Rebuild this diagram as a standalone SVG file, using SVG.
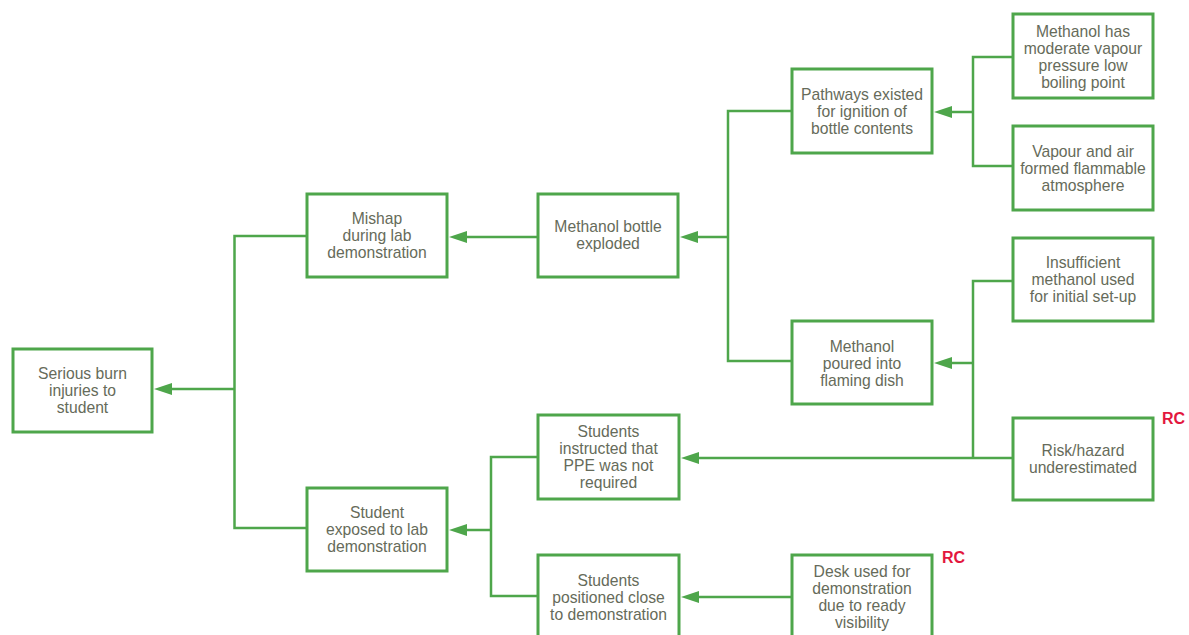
<svg xmlns="http://www.w3.org/2000/svg" width="1189" height="635" viewBox="0 0 1189 635">
  <style>
    .box { fill: #ffffff; stroke: #4ea64b; stroke-width: 3; }
    .lbl { font-family: "Liberation Sans", Arial, sans-serif; font-size: 15.7px; fill: #666b5a; text-anchor: middle; }
    .wire { fill: none; stroke: #4ea64b; stroke-width: 2.5; }
    .rc { font-family: "Liberation Sans", Arial, sans-serif; font-size: 16px; font-weight: bold; fill: #e3173e; }
  </style>
  <defs>
    <marker id="arrow" markerUnits="userSpaceOnUse" markerWidth="18" markerHeight="12" refX="2" refY="6" orient="auto">
      <path d="M0,0 L18,6 L0,12 z" fill="#4ea64b"/>
    </marker>
  </defs>
  <rect width="1189" height="635" fill="#ffffff"/>

  <!-- connectors -->
  <g id="connectors">
    <path class="wire" d="M307,236 H234.5 V528 H307"/>
    <path class="wire" d="M234.5,389 H170" marker-end="url(#arrow)"/>
    <path class="wire" d="M538,237 H465" marker-end="url(#arrow)"/>
    <path class="wire" d="M792,111 H728 V361 H792"/>
    <path class="wire" d="M728,237 H696" marker-end="url(#arrow)"/>
    <path class="wire" d="M1013,57 H973 V166 H1013"/>
    <path class="wire" d="M973,112 H950" marker-end="url(#arrow)"/>
    <path class="wire" d="M1013,281 H973 V458"/>
    <path class="wire" d="M973,363 H950" marker-end="url(#arrow)"/>
    <path class="wire" d="M1013,458 H697" marker-end="url(#arrow)"/>
    <path class="wire" d="M538,457 H491 V596 H538"/>
    <path class="wire" d="M491,530 H465" marker-end="url(#arrow)"/>
    <path class="wire" d="M792,597 H697" marker-end="url(#arrow)"/>
  </g>

  <g id="serious-burn">
    <rect class="box" x="13" y="349" width="139" height="83"/>
    <text class="lbl"><tspan x="82.5" y="378.5">Serious burn</tspan><tspan x="82.5" y="395.5">injuries to</tspan><tspan x="82.5" y="412.5">student</tspan></text>
  </g>

  <g id="mishap">
    <rect class="box" x="307" y="194" width="140" height="83"/>
    <text class="lbl"><tspan x="377" y="224">Mishap</tspan><tspan x="377" y="241">during lab</tspan><tspan x="377" y="258">demonstration</tspan></text>
  </g>

  <g id="student-exposed">
    <rect class="box" x="307" y="488" width="140" height="83"/>
    <text class="lbl"><tspan x="377" y="518">Student</tspan><tspan x="377" y="535">exposed to lab</tspan><tspan x="377" y="552">demonstration</tspan></text>
  </g>

  <g id="bottle-exploded">
    <rect class="box" x="538" y="194" width="140" height="83"/>
    <text class="lbl"><tspan x="608" y="232">Methanol bottle</tspan><tspan x="608" y="249">exploded</tspan></text>
  </g>

  <g id="ignition-pathways">
    <rect class="box" x="792" y="69" width="140" height="84"/>
    <text class="lbl"><tspan x="862" y="100">Pathways existed</tspan><tspan x="862" y="117">for ignition of</tspan><tspan x="862" y="134">bottle contents</tspan></text>
  </g>

  <g id="vapour-pressure">
    <rect class="box" x="1013" y="14" width="140" height="84"/>
    <text class="lbl"><tspan x="1083" y="36.5">Methanol has</tspan><tspan x="1083" y="53.5">moderate vapour</tspan><tspan x="1083" y="70.5">pressure low</tspan><tspan x="1083" y="87.5">boiling point</tspan></text>
  </g>

  <g id="flammable-atmosphere">
    <rect class="box" x="1013" y="126" width="140" height="84"/>
    <text class="lbl"><tspan x="1083" y="157">Vapour and air</tspan><tspan x="1083" y="174">formed flammable</tspan><tspan x="1083" y="191">atmosphere</tspan></text>
  </g>

  <g id="insufficient-methanol">
    <rect class="box" x="1013" y="238" width="140" height="83"/>
    <text class="lbl"><tspan x="1083" y="268">Insufficient</tspan><tspan x="1083" y="285">methanol used</tspan><tspan x="1083" y="302">for initial set-up</tspan></text>
  </g>

  <g id="methanol-poured">
    <rect class="box" x="792" y="321" width="140" height="83"/>
    <text class="lbl"><tspan x="862" y="351.5">Methanol</tspan><tspan x="862" y="368.5">poured into</tspan><tspan x="862" y="385.5">flaming dish</tspan></text>
  </g>

  <g id="risk-underestimated">
    <rect class="box" x="1013" y="418" width="140" height="82"/>
    <text class="lbl"><tspan x="1083" y="456">Risk/hazard</tspan><tspan x="1083" y="473">underestimated</tspan></text>
    <text class="rc" x="1162" y="424">RC</text>
  </g>

  <g id="ppe-not-required">
    <rect class="box" x="538" y="415" width="141" height="84"/>
    <text class="lbl"><tspan x="608.5" y="437">Students</tspan><tspan x="608.5" y="454">instructed that</tspan><tspan x="608.5" y="471">PPE was not</tspan><tspan x="608.5" y="488">required</tspan></text>
  </g>

  <g id="students-close">
    <rect class="box" x="538" y="555" width="141" height="84"/>
    <text class="lbl"><tspan x="608.5" y="585.5">Students</tspan><tspan x="608.5" y="602.5">positioned close</tspan><tspan x="608.5" y="619.5">to demonstration</tspan></text>
  </g>

  <g id="desk-visibility">
    <rect class="box" x="792" y="555" width="140" height="84"/>
    <text class="lbl"><tspan x="862" y="577">Desk used for</tspan><tspan x="862" y="594">demonstration</tspan><tspan x="862" y="611">due to ready</tspan><tspan x="862" y="628">visibility</tspan></text>
    <text class="rc" x="942" y="563">RC</text>
  </g>
</svg>
